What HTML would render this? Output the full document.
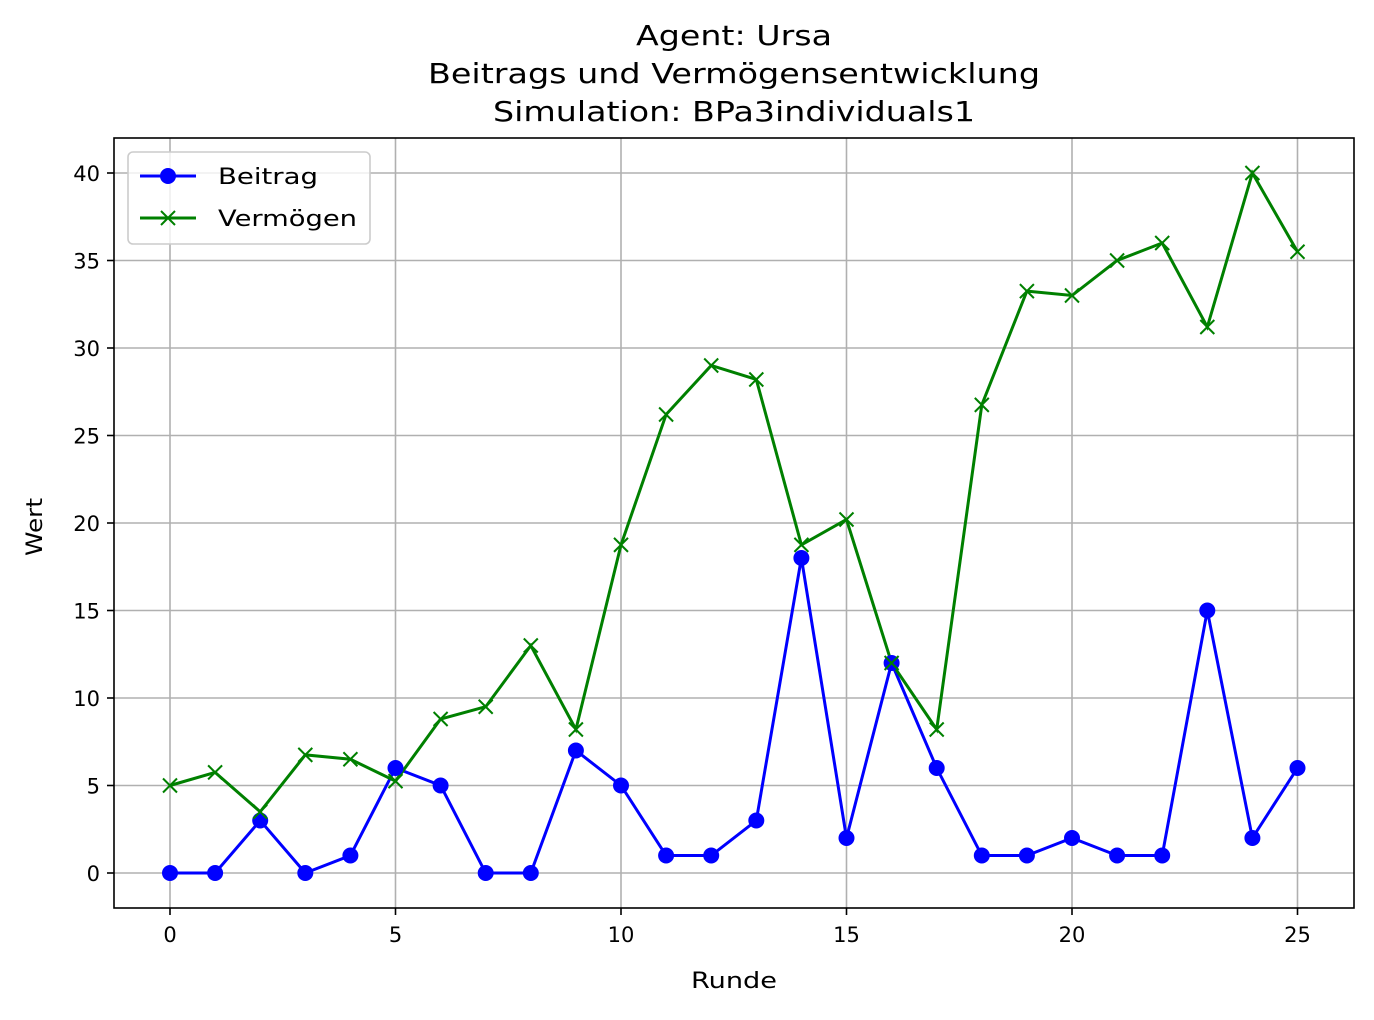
<!DOCTYPE html>
<html><head><meta charset="utf-8"><style>
body{margin:0;background:#fff;}
svg text{font-family:"DejaVu Sans","Liberation Sans",sans-serif;fill:#000;}
</style></head><body>
<svg id="chart" width="1374" height="1015" xmlns="http://www.w3.org/2000/svg">
<rect width="1374" height="1015" fill="#fff"/>
<g font-size="28" text-anchor="middle">
<text x="734" y="45" textLength="196" lengthAdjust="spacingAndGlyphs">Agent: Ursa</text>
<text x="734" y="83" textLength="612" lengthAdjust="spacingAndGlyphs">Beitrags und Vermögensentwicklung</text>
<text x="734" y="121" textLength="482" lengthAdjust="spacingAndGlyphs">Simulation: BPa3individuals1</text>
</g>
<g id="grid"></g>
<g id="series"></g>
<rect x="114" y="138" width="1240" height="770" fill="none" stroke="#000" stroke-width="1.6"/>
<g id="ticks" font-size="21"></g>
<text x="734" y="988" font-size="22" text-anchor="middle" textLength="86" lengthAdjust="spacingAndGlyphs">Runde</text>
<text transform="translate(42,527) rotate(-90)" font-size="22" text-anchor="middle" textLength="58" lengthAdjust="spacingAndGlyphs">Wert</text>
<g>
<rect x="128" y="152" width="242" height="92" rx="5" fill="#fff" fill-opacity="0.8" stroke="#ccc" stroke-width="1.6"/>
<g>
<line x1="140" y1="176" x2="196" y2="176" stroke="#0000ff" stroke-width="3"/>
<circle cx="168" cy="176" r="8" fill="#0000ff"/>
<text x="218" y="184" font-size="22" textLength="100" lengthAdjust="spacingAndGlyphs">Beitrag</text></g>
<g>
<line x1="140" y1="218" x2="196" y2="218" stroke="#008000" stroke-width="3"/>
<path d="M161,211 L175,225 M175,211 L161,225" stroke="#008000" stroke-width="2"/>
<text x="218" y="226" font-size="22" textLength="139" lengthAdjust="spacingAndGlyphs">Vermögen</text></g>
</g>
</svg>
<script>
const rounds=[0,1,2,3,4,5,6,7,8,9,10,11,12,13,14,15,16,17,18,19,20,21,22,23,24,25];
const beitrag=[0,0,3,0,1,6,5,0,0,7,5,1,1,3,18,2,12,6,1,1,2,1,1,15,2,6];
const vermoegen=[5,5.75,3.5,6.75,6.5,5.25,8.8,9.5,13,8.2,18.75,26.2,29,28.2,18.75,20.2,12,8.2,26.75,33.25,33,35,36,31.2,40,35.5];
const xTicks=[0,5,10,15,20,25];
const yTicks=[0,5,10,15,20,25,30,35,40];
const NS="http://www.w3.org/2000/svg";
const sx=v=>170+v*45.1, sy=v=>873-v*17.5;
function mk(t,a,p){const e=document.createElementNS(NS,t);for(const k in a)e.setAttribute(k,a[k]);p.appendChild(e);return e;}
const grid=document.getElementById('grid'),ticks=document.getElementById('ticks'),ser=document.getElementById('series');
xTicks.forEach(v=>{const x=sx(v);
const g=mk('line',{x1:x,x2:x,y1:138,y2:908,stroke:'#b0b0b0','stroke-width':1.6},grid);


mk('line',{x1:x,x2:x,y1:908,y2:915,stroke:'#000','stroke-width':1.6},ticks);
const t=mk('text',{x:x,y:942,'text-anchor':'middle'},ticks);t.textContent=v;

});
yTicks.forEach(v=>{const y=sy(v);
const g=mk('line',{x1:114,x2:1354,y1:y,y2:y,stroke:'#b0b0b0','stroke-width':1.6},grid);


mk('line',{x1:107,x2:114,y1:y,y2:y,stroke:'#000','stroke-width':1.6},ticks);
const t=mk('text',{x:100,y:y+8,'text-anchor':'end'},ticks);t.textContent=v;

});
const pB=mk('polyline',{points:rounds.map((r,i)=>sx(r)+','+sy(beitrag[i])).join(' '),fill:'none',stroke:'#0000ff','stroke-width':3},ser);


const pV=mk('polyline',{points:rounds.map((r,i)=>sx(r)+','+sy(vermoegen[i])).join(' '),fill:'none',stroke:'#008000','stroke-width':3},ser);


rounds.forEach((r,i)=>{
const c=mk('circle',{cx:sx(r),cy:sy(beitrag[i]),r:8,fill:'#0000ff'},ser);


const x=sx(r),y=sy(vermoegen[i]);
const m=mk('path',{d:`M${x-7},${y-7} L${x+7},${y+7} M${x+7},${y-7} L${x-7},${y+7}`,stroke:'#008000','stroke-width':2},ser);


});
</script>
</body></html>
